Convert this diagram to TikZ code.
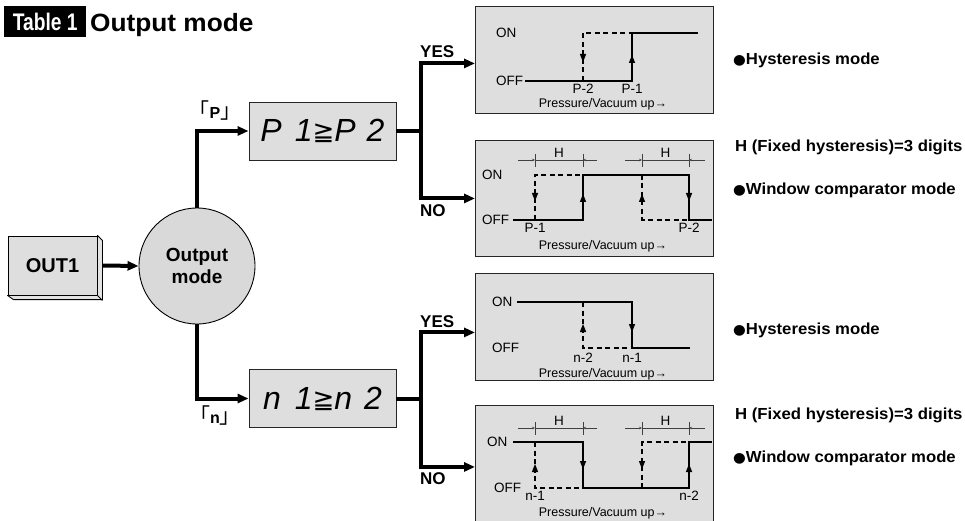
\documentclass[tikz,border=0pt]{standalone}
\usepackage{fontspec}
\setmainfont{Liberation Sans}
\newfontfamily\dvfont{DejaVu Sans}
\newfontfamily\cjkfont{Noto Sans CJK SC}
\usetikzlibrary{arrows.meta}
\definecolor{boxgray}{HTML}{DEDEDE}
\definecolor{circgray}{HTML}{D9D9D9}
\newcommand\fsz[1]{\fontsize{#1}{#1}\selectfont}
\newcommand\arrdn[2]{\fill (#1,#2) -- ++(-3.2,-8) -- ++(6.4,0) -- cycle;}
\newcommand\arrup[2]{\fill (#1,#2) -- ++(-3.2,8) -- ++(6.4,0) -- cycle;}
\newcommand\blt{{\dvfont\fsz{14}●}}
\newcommand\wide[1]{\scalebox{1.045}[1]{#1}}
\begin{document}
\begin{tikzpicture}[x=1pt,y=-1pt,
  conn/.style={line width=4pt,-{Triangle[length=11pt,width=9pt]}},
  connline/.style={line width=4pt},
  chart/.style={draw=black!85,line width=0.9pt,fill=boxgray,inner sep=0,anchor=north west,minimum width=238pt},
  dispbox/.style={draw=black!85,line width=0.9pt,fill=boxgray,inner sep=0,minimum width=147pt,minimum height=58pt,font=\itshape\fsz{32}},
  sig/.style={line width=2pt},
  dsh/.style={line width=2pt,dash pattern=on 5pt off 3.5pt},
  ct/.style={font=\fsz{13.5},inner sep=0},
  pv/.style={font=\fsz{12.5},inner sep=0},
  dim/.style={line width=0.6pt,black!75},
  dimarr/.style={line width=0.6pt,black!75,-{Stealth[length=3pt,width=2.5pt]}},
  yn/.style={font=\bfseries\fsz{17},inner sep=0,anchor=base west},
  rt/.style={font=\bfseries\fsz{16},inner sep=0,anchor=west},
  brk/.style={font=\fsz{16},inner sep=0}]
\useasboundingbox (0,0) rectangle (965,521);
\fill[white] (0,0) rectangle (965,521);

% title
\node[fill=black,text=white,inner sep=0,minimum width=82pt,minimum height=31pt,anchor=north west] (tb) at (4,6) {\scalebox{0.8}[1]{\bfseries\fsz{24}Table 1}};
\node[inner sep=0,anchor=base west,font=\bfseries\fsz{25}] (tt) at (90,32) {\scalebox{1.05}[1]{Output mode}};

% OUT1 box
\node[draw=black,line width=0.9pt,fill=boxgray,minimum width=89pt,minimum height=59pt,inner sep=0,font=\bfseries\fsz{20}] (out) at (52.5,265.5) {OUT1};
\draw[fill=boxgray!85,line width=0.9pt,line join=round] (out.north east) -- ++(5,5) -- ++(0,59) -- ++(-89,0) -- (out.south west) -- (out.south east) -- cycle;
\draw[line width=0.9pt] (out.south east) -- ++(5,5);

% circle
\node[circle,draw=black,line width=0.9pt,fill=circgray,minimum size=116pt,inner sep=0,align=center,font=\bfseries\fontsize{19}{22}\selectfont] (om) at (197,266) {Output\\mode};

\draw[conn] ([xshift=5pt]out.east) -- (om.west);

% display boxes
\node[dispbox] (bp) at (322.5,131) {P\hspace{13pt}1\raisebox{1pt}{\dvfont\upshape\fsz{26}≧}P\hspace{11pt}2};
\node[dispbox] (bn) at (322.5,398.5) {n\hspace{14pt}1\raisebox{1pt}{\dvfont\upshape\fsz{26}≧}n\hspace{12pt}2};

\draw[conn] (om.north) |- (bp.west);
\draw[conn] (om.south) |- (bn.west);

\node[brk] (lp) at (215,111) {{\cjkfont\fsz{21}「}{\bfseries\fsz{16}P}{\cjkfont\fsz{21}」}};
\node[brk] (ln) at (215,416) {{\cjkfont\fsz{21}「}{\bfseries\fsz{16}n}{\cjkfont\fsz{21}」}};

% chart boxes
\node[chart,minimum height=107pt] (c1) at (475,6) {};
\node[chart,minimum height=116pt] (c2) at (475,140) {};
\node[chart,minimum height=107pt] (c3) at (475,273) {};
\node[chart,minimum height=118pt] (c4) at (475,405) {};

% branches
\coordinate (jp) at (421,131);
\coordinate (jn) at (421,398.5);
\draw[connline] (bp.east) -- (jp);
\draw[connline] (bn.east) -- (jn);
\draw[conn] (jp) |- ([yshift=-3.5pt]c1.west);
\draw[conn] (jp) |- (c2.west);
\draw[conn] (jn) |- ([yshift=-5.5pt]c3.west);
\draw[conn] (jn) |- ([yshift=-2.5pt]c4.west);

\node[yn] (y1) at (420,58) {YES};
\node[yn] (n1) at (420,217) {NO};
\node[yn] (y2) at (420,327) {YES};
\node[yn] (n2) at (420,484) {NO};

% chart 1: P hysteresis
\node[ct,anchor=west] at (496,33) {ON};
\node[ct,anchor=west] at (496,81) {OFF};
\draw[sig] (525,81) -- (632,81) -- (632,33) -- (698,33);
\draw[dsh] (583,81) -- (583,33) -- (632,33);
\arrdn{583}{62} \arrup{632}{55}
\node[ct,anchor=north] at (583,84) {P-2};
\node[ct,anchor=north] at (632,84) {P-1};
\node[pv] at (603,104) {Pressure/Vacuum up→};

% chart 2: P window
\node[ct,anchor=west] at (482,175) {ON};
\node[ct,anchor=west] at (482,220) {OFF};
\draw[sig] (513,220) -- (583,220) -- (583,175) -- (689,175) -- (689,220) -- (712,220);
\draw[dsh] (535,220) -- (535,175) -- (583,175);
\draw[dsh] (642,175) -- (642,220) -- (689,220);
\arrdn{535}{201} \arrup{583}{194} \arrup{642}{194} \arrdn{689}{201}
\draw[dimarr] (518,160) -- (535,160);
\draw[dim] (535,160) -- (583,160);
\draw[dimarr] (597,160) -- (583,160);
\draw[dim] (535,154) -- (535,167) (583,154) -- (583,167);
\node[ct,anchor=south] at (559,158) {H};
\draw[dimarr] (625,160) -- (642,160);
\draw[dim] (642,160) -- (689,160);
\draw[dimarr] (705,160) -- (689,160);
\draw[dim] (642,154) -- (642,167) (689,154) -- (689,167);
\node[ct,anchor=south] at (665.5,158) {H};
\node[ct,anchor=north] at (535,223) {P-1};
\node[ct,anchor=north] at (689,223) {P-2};
\node[pv] at (603,246) {Pressure/Vacuum up→};

% chart 3: n hysteresis
\node[ct,anchor=west] at (492,302) {ON};
\node[ct,anchor=west] at (492,348) {OFF};
\draw[sig] (517,302) -- (632,302) -- (632,348) -- (690,348);
\draw[dsh] (583,302) -- (583,348) -- (632,348);
\arrup{583}{324} \arrdn{632}{332}
\node[ct,anchor=north] at (583,353) {n-2};
\node[ct,anchor=north] at (632,353) {n-1};
\node[pv] at (603,374) {Pressure/Vacuum up→};

% chart 4: n window
\node[ct,anchor=west] at (487,442) {ON};
\node[ct,anchor=west] at (494,488) {OFF};
\draw[sig] (513,442) -- (583,442) -- (583,488) -- (689,488) -- (689,442) -- (712,442);
\draw[dsh] (535,442) -- (535,488) -- (583,488);
\draw[dsh] (642,488) -- (642,442) -- (689,442);
\arrup{535}{464} \arrdn{583}{469} \arrdn{642}{469} \arrup{689}{464}
\draw[dimarr] (518,428) -- (535,428);
\draw[dim] (535,428) -- (583,428);
\draw[dimarr] (597,428) -- (583,428);
\draw[dim] (535,422) -- (535,435) (583,422) -- (583,435);
\node[ct,anchor=south] at (559,426) {H};
\draw[dimarr] (625,428) -- (642,428);
\draw[dim] (642,428) -- (689,428);
\draw[dimarr] (705,428) -- (689,428);
\draw[dim] (642,422) -- (642,435) (689,422) -- (689,435);
\node[ct,anchor=south] at (665.5,426) {H};
\node[ct,anchor=north] at (535,491) {n-1};
\node[ct,anchor=north] at (689,491) {n-2};
\node[pv] at (603,513) {Pressure/Vacuum up→};

% right-side texts
\node[rt] at (733,60) {\wide{\blt Hysteresis mode}};
\node[rt] at (735,147) {\wide{H (Fixed hysteresis)=3 digits}};
\node[rt] at (733,190) {\wide{\blt Window comparator mode}};
\node[rt] at (733,330) {\wide{\blt Hysteresis mode}};
\node[rt] at (735,415) {\wide{H (Fixed hysteresis)=3 digits}};
\node[rt] at (733,458) {\wide{\blt Window comparator mode}};
\end{tikzpicture}
\end{document}
